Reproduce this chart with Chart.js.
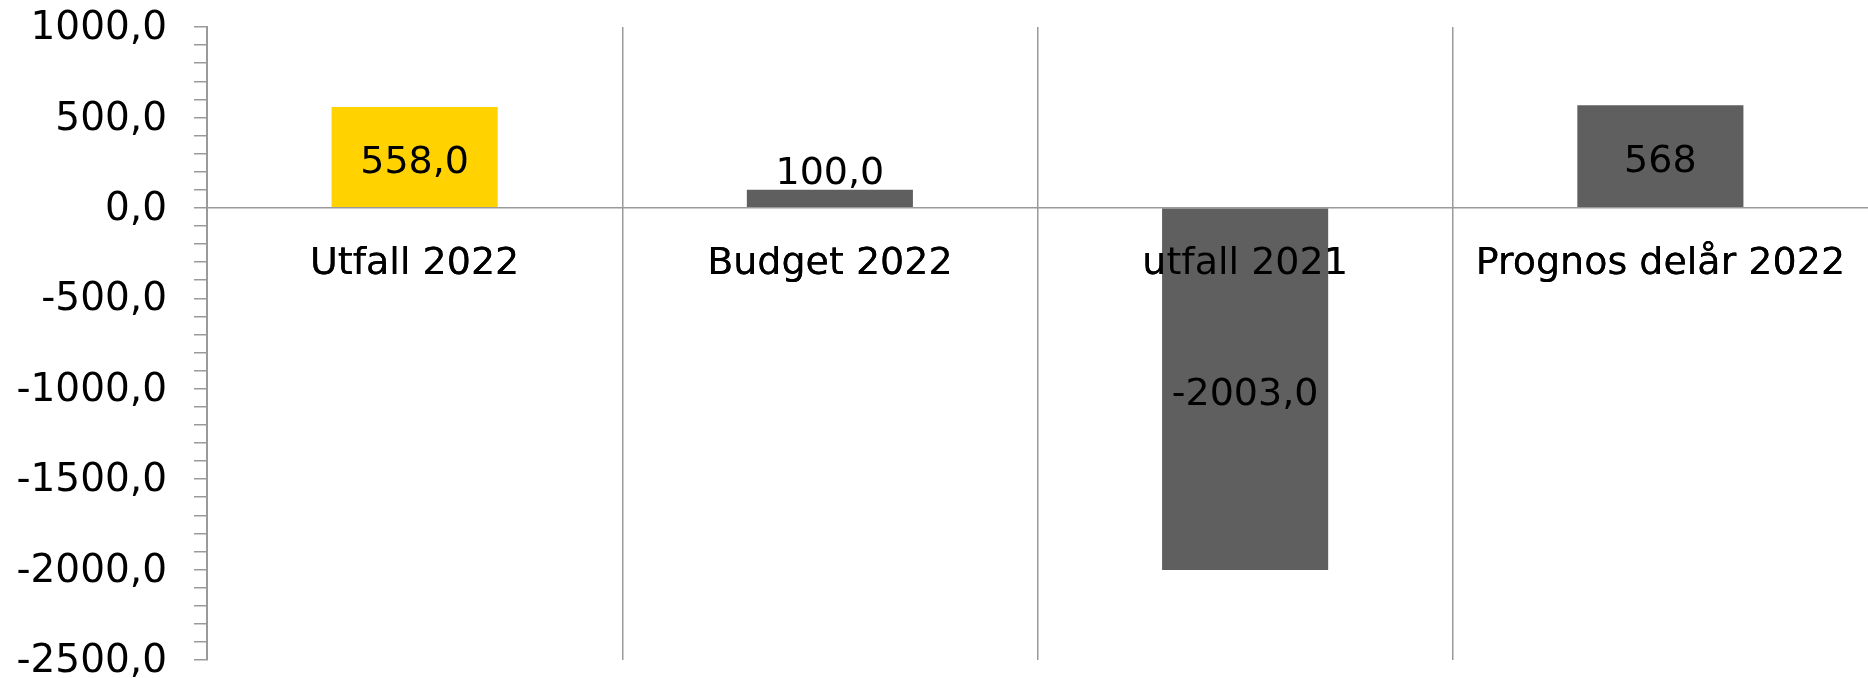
<!DOCTYPE html>
<html>
<head>
<meta charset="utf-8">
<script src="https://cdn.jsdelivr.net/npm/chart.js@4"></script>
<style>
  html, body { margin: 0; padding: 0; background: #fff; }
  #wrap { width: 1868px; height: 678px; }
</style>
</head>
<body>
<div id="wrap"><canvas id="resultChart"></canvas></div>
<script>
// Resultat - utfall, budget och prognos

const categories = ['Utfall 2022', 'Budget 2022', 'utfall 2021', 'Prognos delår 2022'];
const values = [558, 100, -2003, 568];
const valueLabels = ['558,0', '100,0', '-2003,0', '568'];
const barColors = ['#FFD200', '#5F5F5F', '#5F5F5F', '#5F5F5F'];
const yMajorTicks = [1000, 500, 0, -500, -1000, -1500, -2000, -2500];

const FONT = 'DejaVu Sans';
const AXIS_GREY = '#9a9a9a';

// value labels centred in the bar (or just above a short bar),
// and the category labels drawn again so they sit on top of the bars
const barLabels = {
  id: 'barLabels',
  afterDatasetsDraw(chart) {
    chart.scales.x.drawLabels(chart.chartArea);

    const ctx = chart.ctx;
    const meta = chart.getDatasetMeta(0);
    ctx.save();
    ctx.font = '38px "' + FONT + '"';
    ctx.fillStyle = '#000';
    ctx.textAlign = 'center';
    meta.data.forEach((bar, i) => {
      const top = Math.min(bar.y, bar.base);
      const h = Math.abs(bar.base - bar.y);
      if (h < 40) {
        ctx.textBaseline = 'alphabetic';
        ctx.fillText(valueLabels[i], bar.x, top - 6);
      } else {
        ctx.textBaseline = 'middle';
        ctx.fillText(valueLabels[i], bar.x, top + h / 2 + 6);
      }
    });
    ctx.restore();
  }
};

const ctx = document.getElementById('resultChart').getContext('2d');
new Chart(ctx, {
  type: 'bar',
  data: {
    labels: categories,
    datasets: [{
      data: values,
      backgroundColor: barColors,
      borderWidth: 0,
      barPercentage: 0.4,
      categoryPercentage: 1.0
    }]
  },
  options: {
    responsive: true,
    maintainAspectRatio: false,
    animation: false,
    layout: { padding: { top: 27, bottom: 18, left: 0, right: 0 } },
    plugins: {
      legend: { display: false },
      tooltip: { enabled: false }
    },
    scales: {
      x: {
        position: { y: 0 },
        offset: true,
        // no extra room for the end labels, plot runs to the right edge
        afterFit: s => { s.paddingLeft = 0; s.paddingRight = 0; },
        grid: {
          offset: true,
          drawTicks: false,
          // the closing line on the right edge has no tick behind it
          color: c => c.tick ? AXIS_GREY : 'rgba(0,0,0,0)',
          lineWidth: 1.5
        },
        border: { display: true, color: AXIS_GREY, width: 1.5 },
        ticks: {
          padding: 33,
          color: '#000',
          font: { family: FONT, size: 38 }
        }
      },
      y: {
        min: -2500,
        max: 1000,
        afterFit: s => { s.width = 207; s.paddingTop = 0; s.paddingBottom = 0; },
        grid: {
          drawOnChartArea: false,
          drawTicks: true,
          tickLength: 13,
          tickColor: AXIS_GREY,
          lineWidth: 1.5
        },
        border: { display: true, color: AXIS_GREY, width: 2 },
        ticks: {
          stepSize: 100,
          autoSkip: false,
          padding: 27,
          labelOffset: 2,
          color: '#000',
          font: { family: FONT, size: 39 },
          callback: v => yMajorTicks.includes(v) ? v.toFixed(1).replace('.', ',') : ''
        }
      }
    }
  },
  plugins: [barLabels]
});
</script>
</body>
</html>
